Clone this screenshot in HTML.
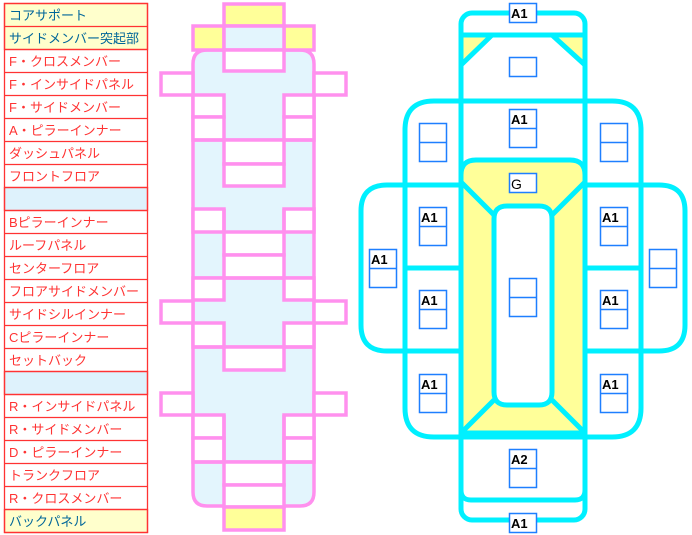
<!DOCTYPE html>
<html><head><meta charset="utf-8"><style>
html,body{margin:0;padding:0;background:#fff;width:692px;height:535px;overflow:hidden}
svg{display:block}
.t{font-family:"Liberation Sans","Noto Sans CJK JP",sans-serif;font-size:13px}
.l{font-family:"Liberation Sans",sans-serif;font-size:13px;font-weight:bold;fill:#000}
</style></head><body>
<svg width="692" height="535" viewBox="0 0 692 535" xmlns="http://www.w3.org/2000/svg">
<!-- table -->
<g stroke="#ff3333" stroke-width="1.3">
<rect x="4.5" y="3.5" width="143" height="46" fill="#ffffcc"/>
<rect x="4.5" y="187.5" width="143" height="23" fill="#def2fc"/>
<rect x="4.5" y="371.5" width="143" height="23" fill="#def2fc"/>
<rect x="4.5" y="509.5" width="143" height="23" fill="#ffffcc"/>
<rect x="4.5" y="3.5" width="143" height="529" fill="none"/>
<path d="M4 26.5H148M4 49.5H148M4 72.5H148M4 95.5H148M4 118.5H148M4 141.5H148M4 164.5H148M4 187.5H148M4 210.5H148M4 233.5H148M4 256.5H148M4 279.5H148M4 302.5H148M4 325.5H148M4 348.5H148M4 371.5H148M4 394.5H148M4 417.5H148M4 440.5H148M4 463.5H148M4 486.5H148M4 509.5H148"/>
</g>
<g class="t" fill="#ff3333">
<text x="9" y="20" fill="#006699">コアサポート</text>
<text x="9" y="43" fill="#006699">サイドメンバー突起部</text>
<text x="9" y="66">F・クロスメンバー</text>
<text x="9" y="89">F・インサイドパネル</text>
<text x="9" y="112">F・サイドメンバー</text>
<text x="9" y="135">A・ピラーインナー</text>
<text x="9" y="158">ダッシュパネル</text>
<text x="9" y="181">フロントフロア</text>
<text x="9" y="227">Bピラーインナー</text>
<text x="9" y="250">ルーフパネル</text>
<text x="9" y="273">センターフロア</text>
<text x="9" y="296">フロアサイドメンバー</text>
<text x="9" y="319">サイドシルインナー</text>
<text x="9" y="342">Cピラーインナー</text>
<text x="9" y="365">セットバック</text>
<text x="9" y="411">R・インサイドパネル</text>
<text x="9" y="434">R・サイドメンバー</text>
<text x="9" y="457">D・ピラーインナー</text>
<text x="9" y="480">トランクフロア</text>
<text x="9" y="503">R・クロスメンバー</text>
<text x="9" y="526" fill="#006699">バックパネル</text>
</g>
<!-- pink -->
<g stroke="#ff90ee" stroke-width="3.5" fill="#fff">
<path d="M193 64 Q193 50 207 50 H300 Q314 50 314 64 V492 Q314 506 300 506 H207 Q193 506 193 492 Z" fill="#e3f5fd"/>
<rect x="224" y="4" width="60" height="22" fill="#ffff99"/>
<rect x="193" y="26" width="31" height="24" fill="#ffff99"/>
<rect x="284" y="26" width="30" height="24" fill="#ffff99"/>
<rect x="224" y="26" width="60" height="24" fill="#e3f5fd"/>
<rect x="224" y="50" width="60" height="21"/>
<rect x="161" y="73" width="32" height="22"/><rect x="314" y="73" width="32" height="22"/>
<rect x="193" y="95" width="31" height="22"/><rect x="193" y="117" width="31" height="23"/>
<rect x="284" y="95" width="30" height="22"/><rect x="284" y="117" width="30" height="23"/>
<path d="M193 140H314" fill="none"/>
<rect x="224" y="140" width="60" height="24"/><rect x="224" y="164" width="60" height="22"/>
<rect x="193" y="209" width="31" height="23"/><rect x="284" y="209" width="30" height="23"/>
<rect x="224" y="232" width="60" height="23"/><rect x="224" y="255" width="60" height="23"/>
<path d="M224 209V232M284 209V232M193 278H314" fill="none"/>
<rect x="193" y="278" width="31" height="22"/><rect x="284" y="278" width="30" height="22"/>
<rect x="161" y="301" width="32" height="22"/><rect x="314" y="301" width="32" height="22"/>
<rect x="193" y="323" width="31" height="24"/><rect x="284" y="323" width="30" height="24"/>
<path d="M193 347H314" fill="none"/>
<rect x="224" y="347" width="60" height="23"/>
<rect x="161" y="393" width="32" height="22"/><rect x="314" y="393" width="32" height="22"/>
<rect x="193" y="415" width="31" height="23"/><rect x="193" y="438" width="31" height="24"/>
<rect x="284" y="415" width="30" height="23"/><rect x="284" y="438" width="30" height="24"/>
<path d="M193 462H314M224 415V462M284 415V462" fill="none"/>
<rect x="224" y="462" width="60" height="23"/><rect x="224" y="485" width="60" height="22"/>
<rect x="224" y="507" width="60" height="23" fill="#ffff99"/>
</g>
<!-- cyan -->
<g stroke="#00f0ff" stroke-width="5" fill="none">
<rect x="461" y="13" width="124" height="507" rx="11"/>
<path d="M461 35H585"/>
<path d="M461 35H492L461 65Z M585 35H552L585 65Z" fill="#ffff99"/>
<path d="M405 130 Q405 101 434 101 H612 Q641 101 641 130 V408 Q641 437 612 437 H434 Q405 437 405 408 Z"/>
<path d="M361 211 Q361 185 387 185 H659 Q685 185 685 211 V325 Q685 351 659 351 H387 Q361 351 361 325 Z"/>
<path d="M405 268H461M585 268H641"/>
<path d="M461 175 Q461 160 476 160 H570 Q585 160 585 175 V433 H461 Z" fill="#ffff99"/>
<path d="M507 206 H539 Q552 206 552 219 V392 Q552 405 539 405 H507 Q494 405 494 392 V219 Q494 206 507 206 Z" fill="#fff"/>
<path d="M461 182 L494 215 M585 182 L552 215 M461 433 L494 400 M585 433 L552 400"/>
<path d="M461 433V490Q461 500 471 500H575Q585 500 585 490V433Z M461 433H585"/>
</g>
<!-- boxes -->
<g fill="#fff" stroke="#1e7fff" stroke-width="1.5">
<rect x="509.5" y="3.5" width="27" height="19"/>
<rect x="509.5" y="57.5" width="27" height="19"/>
<rect x="509.5" y="109.5" width="27" height="38"/>
<rect x="419.5" y="123.5" width="27" height="38"/>
<rect x="600.5" y="123.5" width="27" height="38"/>
<rect x="509.5" y="173.5" width="27" height="19"/>
<rect x="419.5" y="207.5" width="27" height="38"/>
<rect x="600.5" y="207.5" width="27" height="38"/>
<rect x="369.5" y="249.5" width="27" height="38"/>
<rect x="649.5" y="249.5" width="27" height="38"/>
<rect x="509.5" y="278.5" width="27" height="38"/>
<rect x="419.5" y="290.5" width="27" height="38"/>
<rect x="600.5" y="290.5" width="27" height="38"/>
<rect x="419.5" y="374.5" width="27" height="38"/>
<rect x="600.5" y="374.5" width="27" height="38"/>
<rect x="509.5" y="449.5" width="27" height="38"/>
<rect x="509.5" y="513.5" width="27" height="19"/>
<path d="M509 128.5H537M419 142.5H447M600 142.5H628M419 226.5H447M600 226.5H628M369 268.5H397M649 268.5H677M509 297.5H537M419 309.5H447M600 309.5H628M419 393.5H447M600 393.5H628M509 468.5H537"/>
</g>
<g class="l">
<text x="511" y="18">A1</text>
<text x="511" y="124">A1</text>
<text x="511" y="189" font-weight="normal" font-size="14">G</text>
<text x="421" y="222">A1</text>
<text x="602" y="222">A1</text>
<text x="371" y="264">A1</text>
<text x="421" y="305">A1</text>
<text x="602" y="305">A1</text>
<text x="421" y="389">A1</text>
<text x="602" y="389">A1</text>
<text x="511" y="464">A2</text>
<text x="511" y="528">A1</text>
</g>
</svg>
</body></html>
